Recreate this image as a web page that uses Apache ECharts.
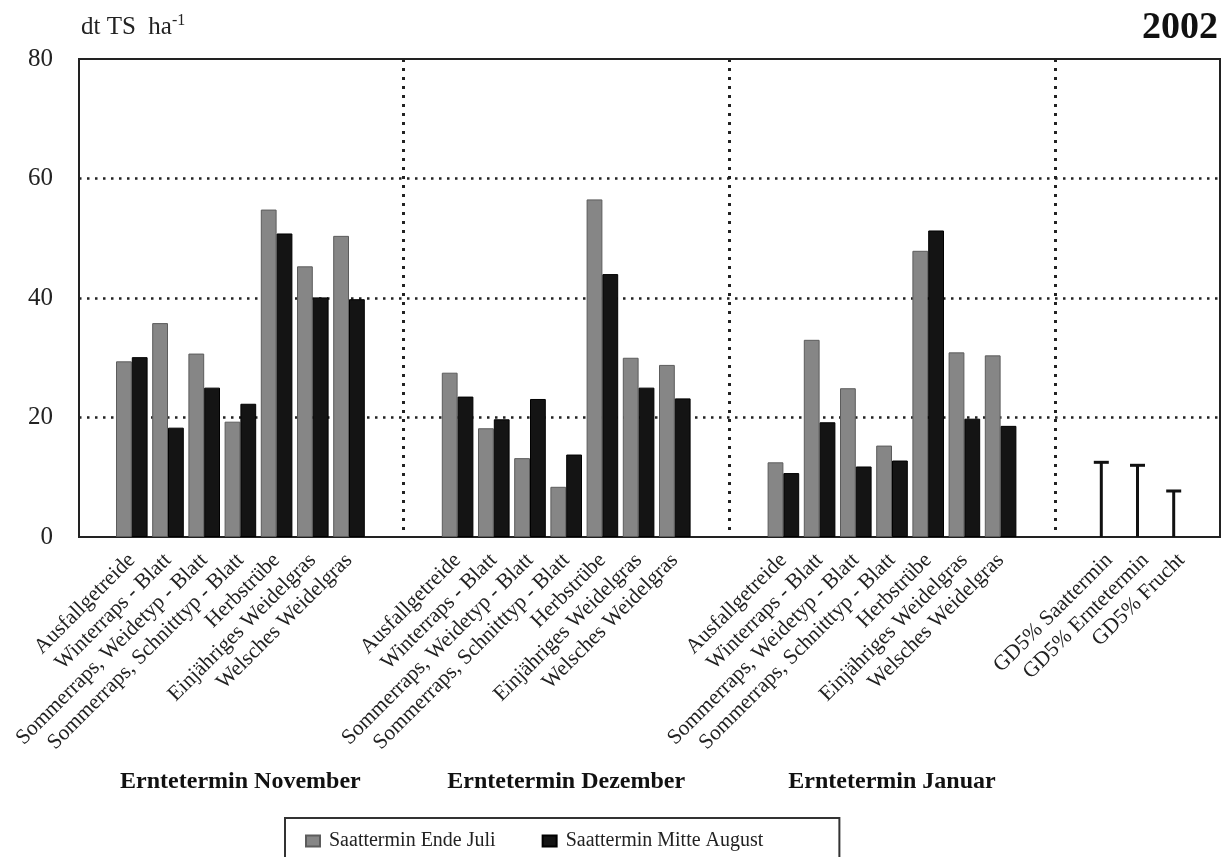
<!DOCTYPE html>
<html>
<head>
<meta charset="utf-8">
<script src="https://cdn.jsdelivr.net/npm/echarts@6/dist/echarts.min.js"></script>
<style>
  html, body { margin: 0; padding: 0; background: #ffffff; }
  #chart { width: 1228px; height: 857px; }
</style>
</head>
<body>
<div id="chart"></div>
<script>
// ---------------- data ----------------
const crops = ['Ausfallgetreide', 'Winterraps - Blatt', 'Sommerraps, Weidetyp - Blatt',
  'Sommerraps, Schnitttyp - Blatt', 'Herbstrübe', 'Einjähriges Weidelgras', 'Welsches Weidelgras'];
const harvestGroups = ['Erntetermin November', 'Erntetermin Dezember', 'Erntetermin Januar'];

// Saattermin Ende Juli (grey)
const endeJuliNovember = [29.4, 35.8, 30.7, 19.3, 54.8, 45.3, 50.4];
const endeJuliDezember = [27.5, 18.2, 13.2, 8.4, 56.5, 30.0, 28.8];
const endeJuliJanuar   = [12.5, 33.0, 24.9, 15.3, 47.9, 30.9, 30.4];
// Saattermin Mitte August (black)
const mitteAugustNovember = [30.1, 18.3, 25.0, 22.3, 50.8, 40.1, 39.8];
const mitteAugustDezember = [23.5, 19.7, 23.1, 13.8, 44.0, 25.0, 23.2];
const mitteAugustJanuar   = [10.7, 19.2, 11.8, 12.8, 51.3, 19.8, 18.6];

// GD 5% (least significant differences)
const gdLabels = ['GD5% Saattermin', 'GD5% Erntetermin', 'GD5% Frucht'];
const gdValues = [12.5, 12.0, 7.7];

const seriesNames = ['Saattermin Ende Juli', 'Saattermin Mitte August'];
const yMin = 0, yMax = 80, yStep = 20;
const yUnit = 'dt TS  ha';
const yearLabel = '2002';

// ---------------- layout of category slots ----------------
// each harvest group: empty slot, 7 crops, empty slot; then GD block: empty slot, 3 GD, empty slot
const GROUP_SLOTS = 9;
const slotLabels = [];
const groupTitleSlots = [];
const juliSlots = [];
const augustSlots = [];
const juliByGroup = [endeJuliNovember, endeJuliDezember, endeJuliJanuar];
const augByGroup = [mitteAugustNovember, mitteAugustDezember, mitteAugustJanuar];
function pushEmpty() { slotLabels.push(''); groupTitleSlots.push(''); juliSlots.push('-'); augustSlots.push('-'); }
harvestGroups.forEach(function (g, gi) {
  pushEmpty();
  crops.forEach(function (c, ci) {
    slotLabels.push(c);
    groupTitleSlots.push(ci === 3 ? g : '');
    juliSlots.push(juliByGroup[gi][ci]);
    augustSlots.push(augByGroup[gi][ci]);
  });
  pushEmpty();
});
pushEmpty();
const gdStart = slotLabels.length;
gdLabels.forEach(function (l) {
  slotLabels.push(l); groupTitleSlots.push(''); juliSlots.push('-'); augustSlots.push('-');
});
pushEmpty();
const gdData = gdValues.map(function (v, i) { return [gdStart + i, v]; });

// ---------------- chart ----------------
const FONT = 'Liberation Serif';
const BAR_W = 15.8;
const SLOT_W = 36.2;
const chart = echarts.init(document.getElementById('chart'), null, { renderer: 'canvas' });

const option = {
  backgroundColor: '#ffffff',
  animation: false,
  textStyle: { fontFamily: FONT },
  title: [
    {
      text: yearLabel, right: 5, top: 4,
      textStyle: { fontFamily: FONT, fontSize: 38, fontWeight: 'bold', color: '#111' }
    },
    {
      text: '{a|' + yUnit + '}{b|-1}', left: 76, top: 8,
      textStyle: {
        fontWeight: 'normal',
        rich: {
          a: { fontFamily: FONT, fontSize: 25, fontWeight: 'normal', color: '#222' },
          b: { fontFamily: FONT, fontSize: 16, fontWeight: 'normal', color: '#222', padding: [0, 0, 13, 0] }
        }
      }
    }
  ],
  legend: {
    data: seriesNames,
    left: 285, top: 818,
    orient: 'horizontal',
    padding: [13, 76, 20, 20],
    itemGap: 46,
    itemWidth: 14, itemHeight: 11,
    icon: 'rect',
    borderColor: '#333', borderWidth: 2,
    textStyle: { fontFamily: FONT, fontSize: 20, color: '#222', padding: [0, 0, 0, 4] }
  },
  grid: [
    { left: 79, top: 59, width: 1141, height: 478, show: true, outerBoundsMode: 'none', containLabel: false,
      borderColor: '#222', borderWidth: 2, backgroundColor: 'transparent' },
    { left: 77.5, top: 59, width: SLOT_W * slotLabels.length, height: 478,
      outerBoundsMode: 'none', containLabel: false }
  ],
  xAxis: [
    { gridIndex: 0, type: 'value', min: 0, max: 1, show: false },
    {
      gridIndex: 1, type: 'category', data: slotLabels, position: 'bottom',
      axisLine: { show: false }, axisTick: { show: false },
      axisLabel: { interval: 0, rotate: 45, margin: 20, fontFamily: FONT, fontSize: 21.5, color: '#222' },
      splitLine: {
        show: true,
        interval: function (idx) { return idx > 0 && idx % GROUP_SLOTS === 0 && idx < slotLabels.length - 1; },
        lineStyle: { color: '#222', width: 3, type: [3, 6] }
      }
    },
    {
      gridIndex: 1, type: 'category', data: groupTitleSlots, position: 'bottom',
      axisLine: { show: false }, axisTick: { show: false }, splitLine: { show: false },
      axisLabel: { interval: 0, margin: 233, fontFamily: FONT, fontSize: 24, fontWeight: 'bold', color: '#111' }
    }
  ],
  yAxis: [
    {
      gridIndex: 0, type: 'value', min: yMin, max: yMax, interval: yStep,
      axisLine: { show: false }, axisTick: { show: false },
      axisLabel: { margin: 26, fontFamily: FONT, fontSize: 25, color: '#222' },
      splitLine: { show: true, showMinLine: false, showMaxLine: false,
        lineStyle: { color: '#222', width: 2.5, type: [2.5, 5.5] } }
    },
    { gridIndex: 1, type: 'value', min: yMin, max: yMax, interval: yStep, show: false,
      splitLine: { show: false } }
  ],
  series: [
    {
      name: seriesNames[0], type: 'bar', xAxisIndex: 1, yAxisIndex: 1,
      data: juliSlots, barWidth: BAR_W, barGap: '0%',
      itemStyle: { color: '#868686', borderColor: '#5c5c5c', borderWidth: 1 }
    },
    {
      name: seriesNames[1], type: 'bar', xAxisIndex: 1, yAxisIndex: 1,
      data: augustSlots, barWidth: BAR_W, barGap: '0%',
      itemStyle: { color: '#141414', borderColor: '#000', borderWidth: 1 }
    },
    {
      name: 'GD5%', type: 'custom', xAxisIndex: 1, yAxisIndex: 1,
      data: gdData,
      renderItem: function (params, api) {
        const top = api.coord([api.value(0), api.value(1)]);
        const base = api.coord([api.value(0), 0]);
        const cx = top[0] - BAR_W / 2;
        return {
          type: 'group',
          children: [
            { type: 'line', shape: { x1: cx, y1: base[1], x2: cx, y2: top[1] },
              style: { stroke: '#111', lineWidth: 3 } },
            { type: 'line', shape: { x1: cx - 7.5, y1: top[1], x2: cx + 7.5, y2: top[1] },
              style: { stroke: '#111', lineWidth: 3 } }
          ]
        };
      }
    }
  ]
};
chart.setOption(option);
</script>
</body>
</html>
